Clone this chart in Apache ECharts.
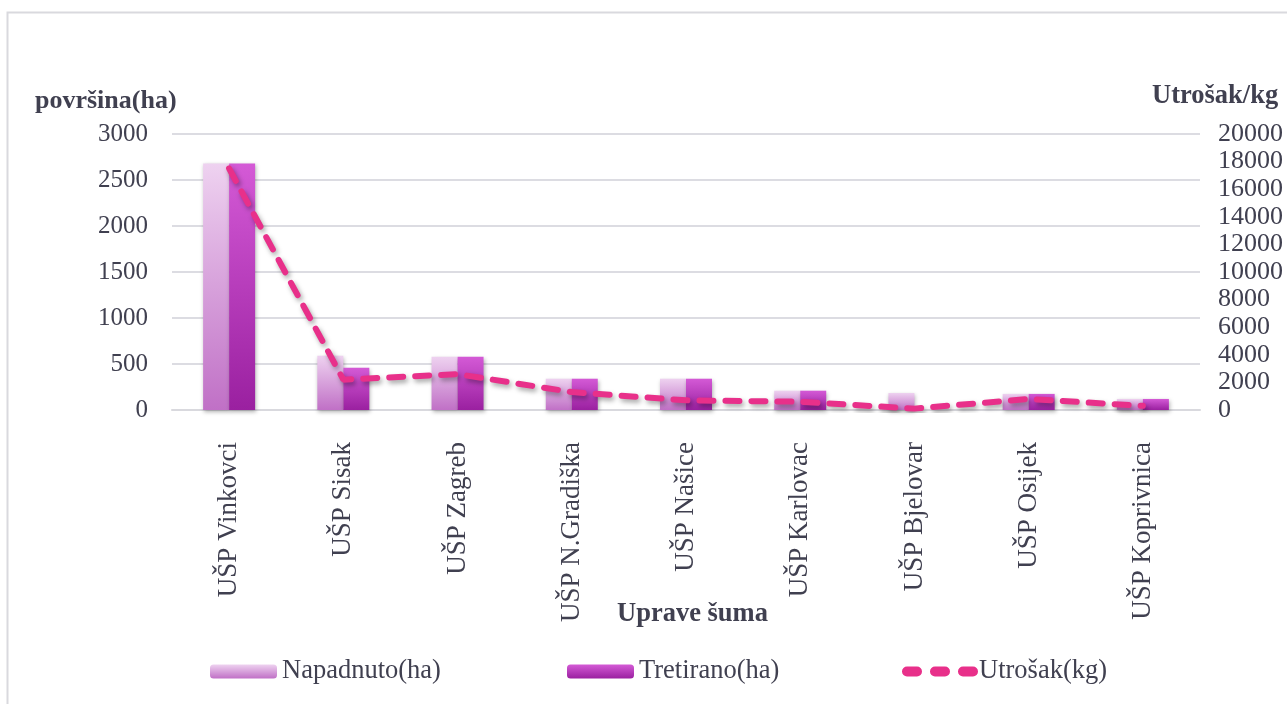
<!DOCTYPE html>
<html><head><meta charset="utf-8">
<script src="https://cdn.jsdelivr.net/npm/echarts@6/dist/echarts.min.js"></script>
<style>html,body{margin:0;padding:0;background:#fff}#c{width:1287px;height:704px}</style>
</head><body><div id="c"></div>
<script>
const categories = ['UŠP Vinkovci','UŠP Sisak','UŠP Zagreb','UŠP N.Gradiška','UŠP Našice','UŠP Karlovac','UŠP Bjelovar','UŠP Osijek','UŠP Koprivnica'];
const napadnuto = [2680, 590, 580, 340, 340, 210, 185, 175, 120];
const tretirano = [2680, 460, 580, 340, 340, 210, 0, 175, 120];
const utrosak = [17500, 2200, 2600, 1300, 700, 600, 100, 800, 300];
const leftTicks = {min: 0, max: 3000, interval: 500};
const rightTicks = {min: 0, max: 20000, interval: 2000};

const font = '"Liberation Serif", "Times New Roman", serif';
const txt = '#404050';
const chart = echarts.init(document.getElementById('c'));
const grad = (a, b) => new echarts.graphic.LinearGradient(0, 0, 0, 1, [{offset: 0, color: a}, {offset: 1, color: b}]);
const dashIcon = 'path://M5,0h10a5,5 0 0 1 0,10h-10a5,5 0 0 1 0,-10z M33,0h10a5,5 0 0 1 0,10h-10a5,5 0 0 1 0,-10z M61,0h10a5,5 0 0 1 0,10h-10a5,5 0 0 1 0,-10z';
const legendText = {fontFamily: font, fontSize: 26.5, color: txt};
chart.setOption({
  animation: false,
  graphic: [
    {type: 'rect', shape: {x: 7.5, y: 12.5, width: 1400, height: 800}, style: {fill: 'none', stroke: '#d9d9de', lineWidth: 2}, silent: true},
    {type: 'text', left: 35, top: 88, style: {text: 'površina(ha)', font: 'bold 26px ' + font, fill: txt}},
    {type: 'text', left: 1152, top: 83, style: {text: 'Utrošak/kg', font: 'bold 26.5px ' + font, fill: txt}},
    {type: 'text', left: 617, top: 601, style: {text: 'Uprave šuma', font: 'bold 26.5px ' + font, fill: txt}}
  ],
  grid: {left: 172, right: 87, top: 134, bottom: 294, containLabel: false},
  legend: [
    {data: ['Napadnuto(ha)'], left: 205, top: 653, itemWidth: 67, itemHeight: 14, textStyle: legendText},
    {data: ['Tretirano(ha)'], left: 562, top: 653, itemWidth: 67, itemHeight: 14, textStyle: legendText},
    {data: [{name: 'Utrošak(kg)', icon: dashIcon}], left: 897, top: 653, itemWidth: 76, itemHeight: 10, textStyle: Object.assign({padding: [0, 0, 0, -4]}, legendText)}
  ],
  xAxis: {
    type: 'category', data: categories,
    axisLine: {lineStyle: {color: '#d9d9de', width: 2}},
    axisTick: {show: false},
    axisLabel: {rotate: 90, margin: 32, fontFamily: font, fontSize: 27, color: txt}
  },
  yAxis: [
    {type: 'value', min: leftTicks.min, max: leftTicks.max, interval: leftTicks.interval,
     axisLine: {show: false}, axisTick: {show: false},
     axisLabel: {margin: 24, fontFamily: font, fontSize: 25, color: txt, formatter: v => String(v)},
     splitLine: {lineStyle: {color: '#dcdce2', width: 2}}},
    {type: 'value', min: rightTicks.min, max: rightTicks.max, interval: rightTicks.interval, position: 'right',
     axisLine: {show: false}, axisTick: {show: false},
     axisLabel: {margin: 18, fontFamily: font, fontSize: 26, color: txt, formatter: v => String(v)},
     splitLine: {show: false}}
  ],
  series: [
    {name: 'Napadnuto(ha)', type: 'bar', data: napadnuto, barWidth: 26, barGap: '0%',
     itemStyle: {color: grad('#eed2f0', '#c070c6'), shadowBlur: 4, shadowColor: 'rgba(0,0,0,0.3)', shadowOffsetX: 1, shadowOffsetY: 2}},
    {name: 'Tretirano(ha)', type: 'bar', data: tretirano, barWidth: 26, barGap: '0%',
     itemStyle: {color: grad('#d45ad6', '#9a20a0'), shadowBlur: 4, shadowColor: 'rgba(0,0,0,0.3)', shadowOffsetX: 1, shadowOffsetY: 2}},
    {name: 'Utrošak(kg)', type: 'line', yAxisIndex: 1, data: utrosak, symbol: 'none',
     itemStyle: {color: '#e8308a'},
     lineStyle: {color: '#e8308a', width: 6, type: [14, 12], cap: 'round', shadowBlur: 5, shadowColor: 'rgba(0,0,0,0.35)', shadowOffsetX: 2, shadowOffsetY: 3}}
  ]
});
</script></body></html>
